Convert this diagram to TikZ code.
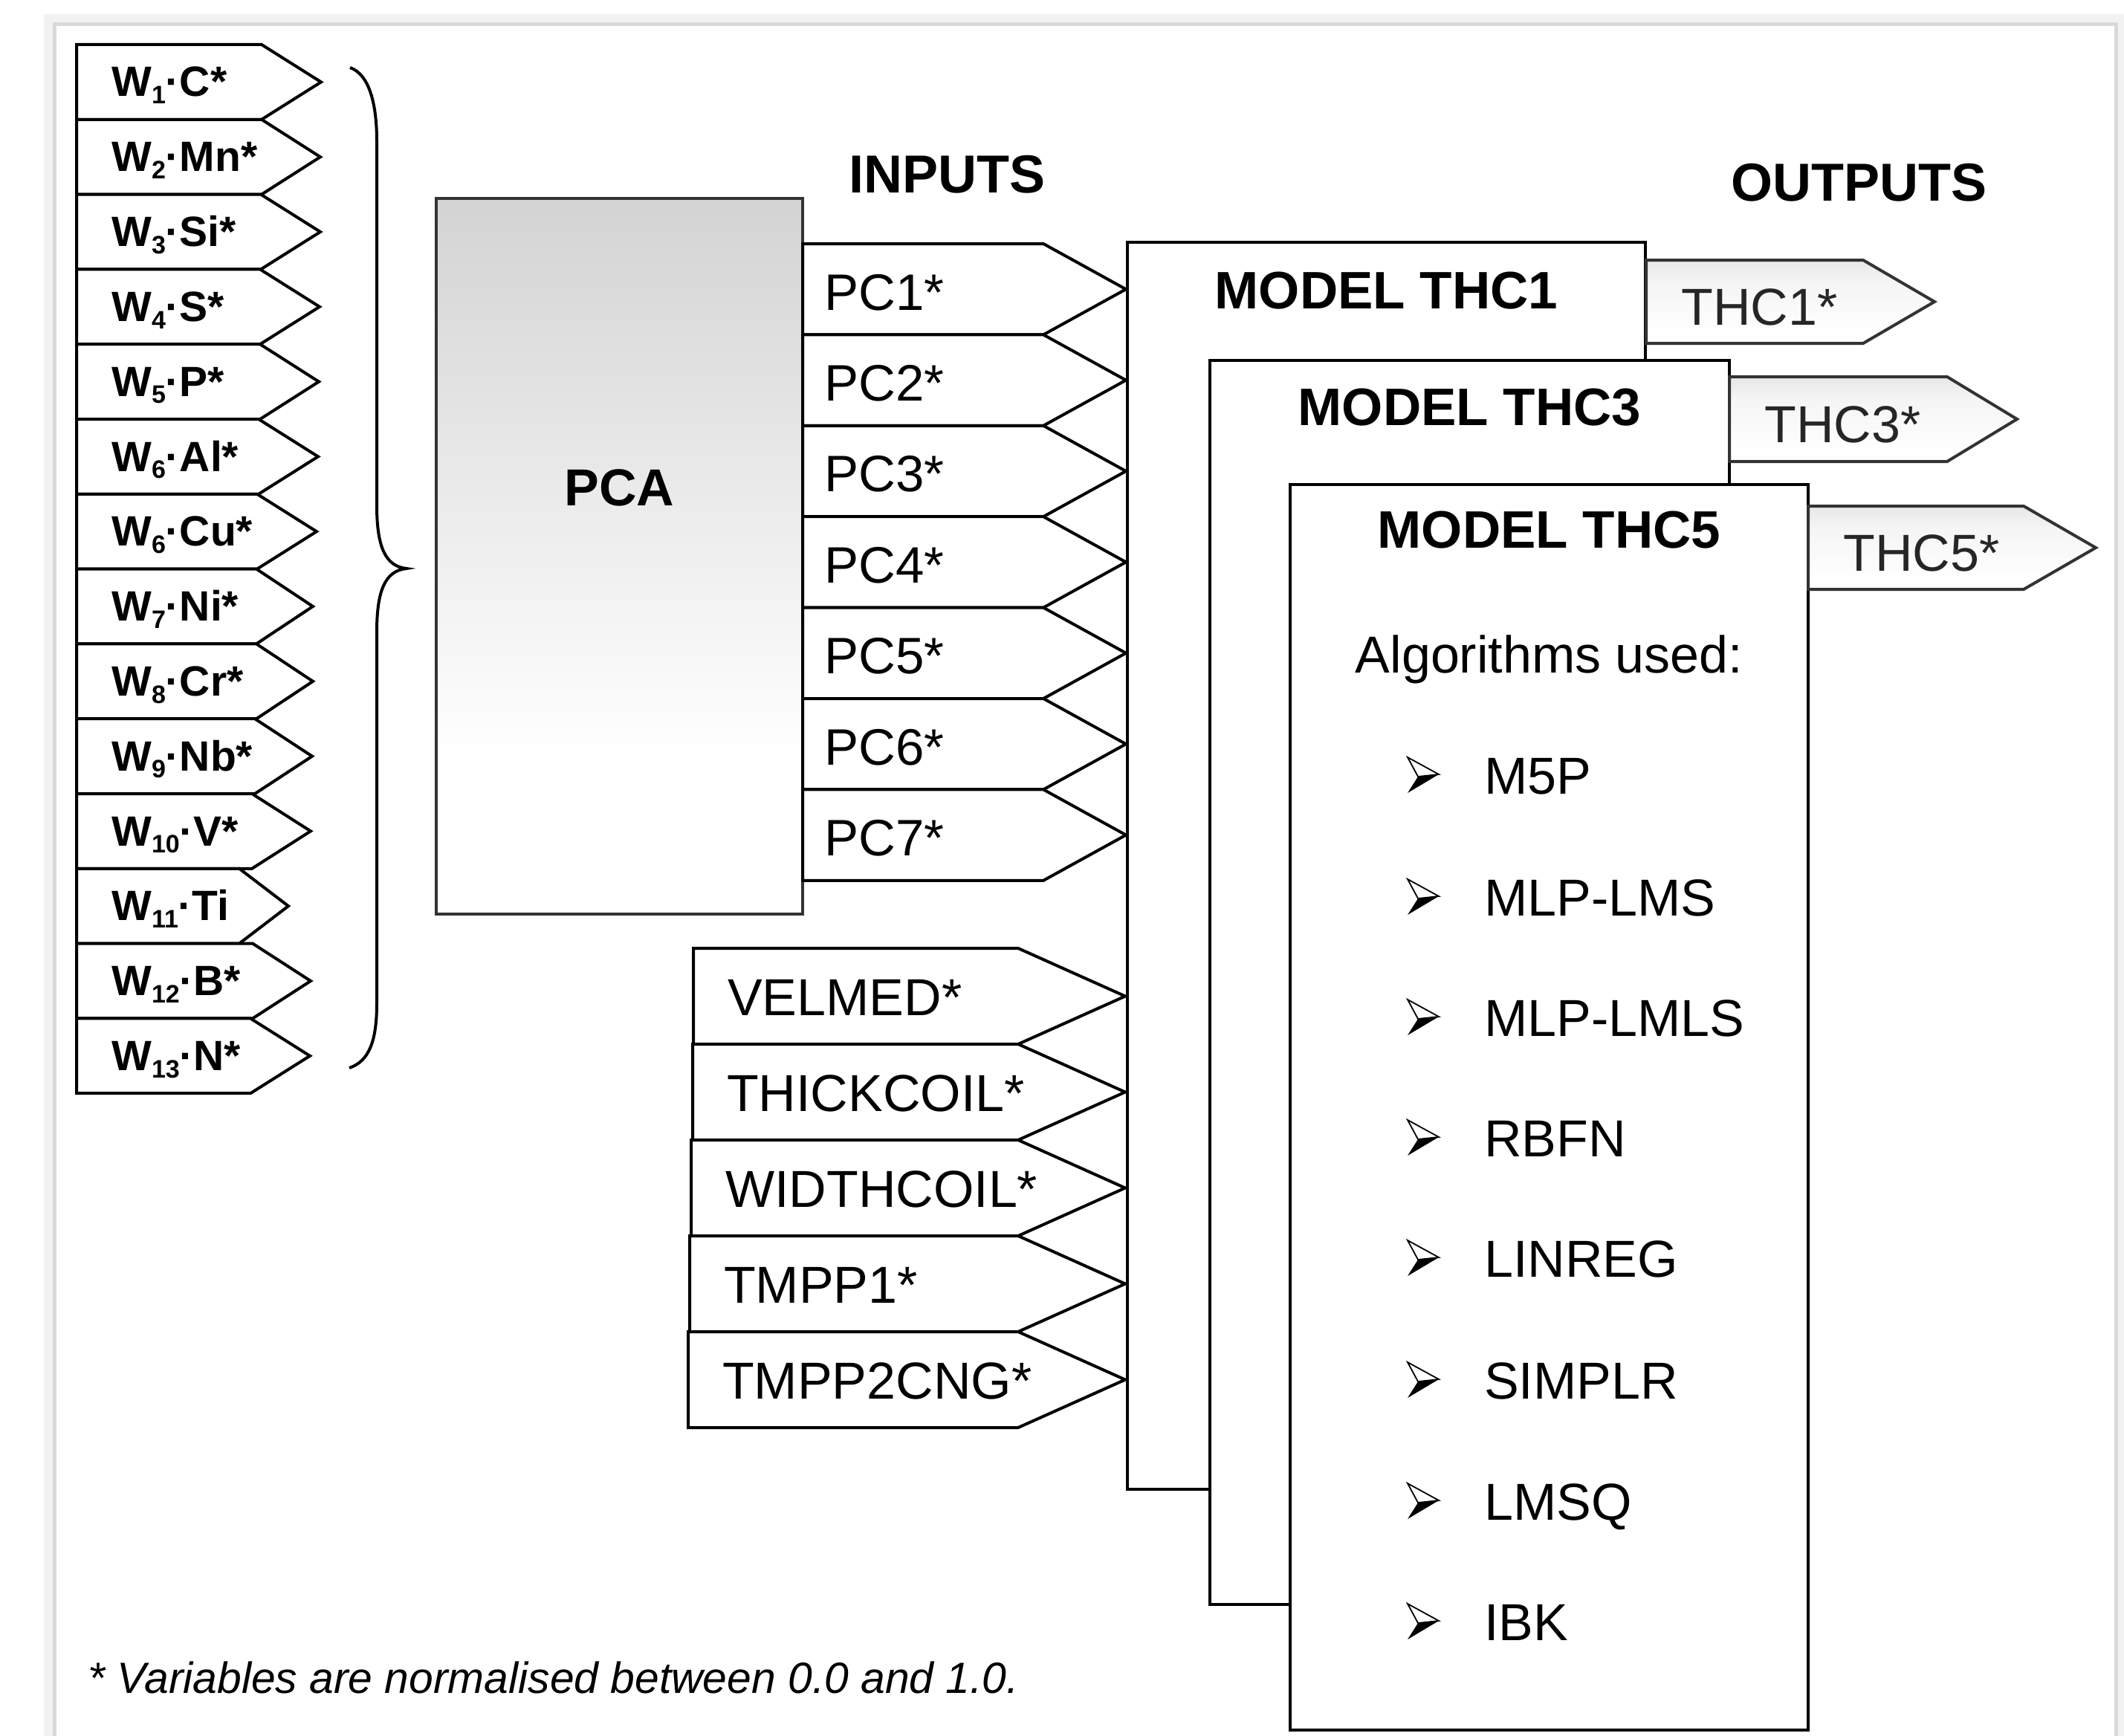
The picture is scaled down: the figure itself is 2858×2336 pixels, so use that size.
\documentclass[tikz,border=0pt]{standalone}
\usepackage{fontspec}
\setmainfont{Liberation Sans}
\usetikzlibrary{calc}

% grey-to-white fills
\pgfdeclareverticalshading{pcafill}{100bp}{color(0bp)=(white); color(36bp)=(white); color(100bp)=(black!28)}
\pgfdeclareverticalshading{outfill}{100bp}{color(0bp)=(black!12); color(30bp)=(white); color(62bp)=(white!96!black); color(100bp)=(black!20)}

% subscript index of a weight
\newcommand\wsub[1]{\raisebox{-0.17em}{\fontsize{34}{34}\selectfont #1}}
% 3-D arrowhead bullet centred at (#1,#2)
\newcommand\arrowbullet[2]{%
  \filldraw[fill=white, draw=black, line width=1.8pt, line join=miter]
    (#1-21,#2-24) -- (#1+21,#2-1) -- (#1-7,#2+2) -- cycle;
  \fill[black] (#1-7,#2+2) -- (#1+21,#2-1) -- (#1-21,#2+24) -- cycle;}

\tikzset{
  arrowshape/.style={draw=black, line width=4pt, line join=miter, fill=white},
  outshape/.style={draw=black!80, line width=4pt, line join=miter, shade, shading=outfill},
  modelbox/.style={draw=black, line width=4.5pt, fill=white, rectangle, inner sep=0pt},
  wlabel/.style={anchor=base west, inner sep=0pt, font=\fontsize{57}{66}\selectfont\bfseries},
  biglabel/.style={anchor=base west, inner sep=0pt, font=\fontsize{69}{82}\selectfont},
  outlabel/.style={anchor=base west, inner sep=0pt, text=black!85, font=\fontsize{70}{84}\selectfont},
  headlabel/.style={anchor=base, inner sep=0pt, font=\fontsize{71}{84}\selectfont\bfseries},
  listlabel/.style={anchor=base west, inner sep=0pt, font=\fontsize{70}{84}\selectfont},
}

\begin{document}
\begin{tikzpicture}[x=1pt, y=-1pt]
\useasboundingbox (0,0) rectangle (2858,2336);

% outer frame with a soft shadow
\begin{scope}
  \clip (0,0) rectangle (2858,2336);
  \fill[white] (0,0) rectangle (2858,2336);
  \draw[black!5, line width=14pt] (66,26) rectangle (2852,2440);
  \draw[black!15, line width=5pt] (73,33) rectangle (2847,2440);
\end{scope}

% weighted chemical composition
\foreach \i/\n/\el/\br/\tp in {
   1/1/C*/352/432, 2/2/Mn*/352/431, 3/3/Si*/351/431, 4/4/S*/350/430,
   5/5/P*/350/429, 6/6/Al*/348/428, 7/6/Cu*/346/426, 8/7/Ni*/345/421,
   9/8/Cr*/345/421, 10/9/Nb*/343/420, 11/10/V*/339/418, 12/11/Ti/322/388,
   13/12/B*/340/418, 14/13/N*/337/417} {
  \pgfmathsetmacro\rt{60+(\i-1)*100.8}
  \draw[arrowshape] (103,\rt) -- (\br,\rt) -- (\tp,\rt+50.4)
    -- (\br,\rt+100.8) -- (103,\rt+100.8) -- cycle;
  \node[wlabel] (w\i) at (150,\rt+70) {W\wsub{\n}·\el};
}

% brace gathering the composition
\coordinate (bracetop) at (471,91);
\coordinate (bracetip) at (547,765);
\coordinate (bracebot) at (470,1437);
\draw[line width=4pt]
  (bracetop) .. controls (497,100) and (507,140) .. (507,190)
  -- (507,680) .. controls (507,735) and (518,762) .. (bracetip)
  .. controls (518,768) and (507,795) .. (507,850)
  -- (507,1350) .. controls (507,1400) and (497,1428) .. (bracebot);

% principal component analysis block
\node[draw=black!80, line width=4.5pt, shade, shading=pcafill, rectangle,
      minimum width=493pt, minimum height=963pt, inner sep=0pt]
  (pca) at (833.5,748.5) {};
\node[headlabel, font=\fontsize{70}{84}\selectfont\bfseries] (pcat) at (833.5,680) {PCA};

% principal components
\foreach \i in {1,...,7} {
  \pgfmathsetmacro\rt{328+(\i-1)*122.4}
  \draw[arrowshape] (1080,\rt) -- (1404,\rt) -- (1515,\rt+61.2)
    -- (1404,\rt+122.4) -- (1080,\rt+122.4) -- cycle;
  \node[biglabel] (pc\i) at (1109,\rt+89) {PC\i*};
}

% process variables
\foreach \i/\lx/\txt in {1/933/VELMED*, 2/932/THICKCOIL*, 3/930/WIDTHCOIL*,
                         4/928/TMPP1*, 5/926/TMPP2CNG*} {
  \pgfmathsetmacro\rt{1276+(\i-1)*129}
  \draw[arrowshape] (\lx,\rt) -- (1370,\rt) -- (1514,\rt+64.5)
    -- (1370,\rt+129) -- (\lx,\rt+129) -- cycle;
  \node[biglabel, font=\fontsize{70}{84}\selectfont] (in\i) at (\lx+46,\rt+90) {\txt};
}

% column titles
\node[headlabel, font=\fontsize{72}{86}\selectfont\bfseries] (inputs) at (1274,259) {INPUTS};
\node[headlabel, font=\fontsize{72}{86}\selectfont\bfseries] (outputs) at (2501,270) {OUTPUTS};

% stacked models
\node[modelbox, minimum width=697pt, minimum height=1678pt] (m1) at (1865.5,1165) {};
\node[headlabel] (m1t) at ($(m1.north)+(0,92)$) {MODEL THC1};
\node[modelbox, minimum width=699pt, minimum height=1674pt] (m3) at (1977.5,1322) {};
\node[headlabel] (m3t) at ($(m3.north)+(0,90)$) {MODEL THC3};
\node[modelbox, minimum width=697pt, minimum height=1676pt] (m5) at (2084.5,1490) {};
\node[headlabel] (m5t) at ($(m5.north)+(0,88)$) {MODEL THC5};

% model outputs
\foreach \k/\l/\t/\b/\br/\tp in {1/2215/350/462/2507/2603,
                                 3/2327/507/621/2620/2714,
                                 5/2433/681/793/2723/2820} {
  \draw[outshape] (\l,\t) -- (\br,\t) -- (\tp,{(\t+\b)/2}) -- (\br,\b) -- (\l,\b) -- cycle;
  \node[outlabel] (o\k) at (\l+47,{(\t+\b)/2+31}) {THC\k*};
}

% algorithms list
\node[headlabel, font=\fontsize{70}{84}\selectfont] (alg) at (2084.5,905) {Algorithms used:};
\foreach \y/\name [count=\j] in {1043/M5P, 1207/MLP-LMS, 1369/MLP-LMLS, 1531/RBFN,
                                 1693/LINREG, 1857/SIMPLR, 2020/LMSQ, 2182/IBK} {
  \arrowbullet{1915}{\y}
  \node[listlabel] (a\j) at (1997,\y+25) {\name};
}

% footnote
\node[anchor=base west, inner sep=0pt, font=\fontsize{58.8}{70}\selectfont\itshape]
  (note) at (118,2278) {* Variables are normalised between 0.0 and 1.0.};
\end{tikzpicture}
\end{document}
